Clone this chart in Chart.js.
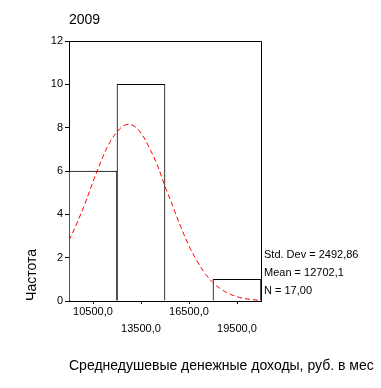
<!DOCTYPE html>
<html><head><meta charset="utf-8">
<script src="https://cdn.jsdelivr.net/npm/chart.js@4/dist/chart.umd.min.js"></script>
<style>html,body{margin:0;padding:0;background:#fff;}#wrap{width:381px;height:388px;}</style>
</head><body><div id="wrap"><canvas id="c" width="381" height="388"></canvas></div>
<script>
const title = '2009';
const xTitle = 'Среднедушевые денежные доходы, руб. в мес';
const yTitle = 'Частота';
const binCenters = [10500, 13500, 16500, 19500];
const binCounts = [6, 10, 0, 1];
const curveX = [9000,9500,10000,10500,11000,11500,12000,12500,13000,13500,14000,14500,15000,15500,16000,16500,17000,17500,18000,18500,19000,19500,20000,20500,21000];
const curveY = [2.8,3.6,4.5,5.5,6.45,7.25,7.8,8.12,8.1,7.75,7.1,6.3,5.3,4.35,3.4,2.55,1.85,1.28,0.85,0.55,0.34,0.2,0.11,0.06,0.03];
const statLines = ['Std. Dev = 2492,86', 'Mean = 12702,1', 'N = 17,00'];
const yTicks = [0, 2, 4, 6, 8, 10, 12];

const FONT = '"Liberation Sans", Arial, sans-serif';

const framePlugin = {
  id: 'frame',
  afterDraw(chart) {
    const ctx = chart.ctx, a = chart.chartArea;
    ctx.save();
    ctx.strokeStyle = '#000';
    ctx.lineWidth = 1;
    ctx.beginPath();
    ctx.moveTo(a.left, a.top + 0.5);
    ctx.lineTo(a.right + 0.5, a.top + 0.5);
    ctx.lineTo(a.right + 0.5, a.bottom);
    ctx.stroke();
    ctx.fillStyle = '#000';
    ctx.textBaseline = 'middle';
    ctx.textAlign = 'left';
    ctx.font = '14px ' + FONT;
    ctx.fillText(title, 69, 20);
    ctx.fillText(xTitle, 69, 366);
    ctx.font = '11px ' + FONT;
    const ys = [255, 273, 291];
    statLines.forEach((t, i) => ctx.fillText(t, 264, ys[i]));
    ctx.save();
    ctx.translate(32, 275);
    ctx.rotate(-Math.PI / 2);
    ctx.textAlign = 'center';
    ctx.font = '14px ' + FONT;
    ctx.fillText(yTitle, 0, 0);
    ctx.restore();
    ctx.restore();
  }
};

new Chart(document.getElementById('c'), {
  type: 'bar',
  data: {
    datasets: [
      {
        type: 'line',
        data: curveX.map((x, i) => ({x: x, y: curveY[i]})),
        borderColor: '#ff0000',
        borderWidth: 1,
        borderDash: [5, 3],
        pointRadius: 0,
        tension: 0.4,
        fill: false,
        order: 0
      },
      {
        type: 'bar',
        data: binCenters.map((x, i) => ({x: x, y: binCounts[i] || null})),
        backgroundColor: '#ffffff',
        borderColor: '#000000',
        borderWidth: 1,
        borderSkipped: 'start',
        barPercentage: 1,
        categoryPercentage: 1,
        order: 1
      }
    ]
  },
  options: {
    responsive: false,
    animation: false,
    layout: {padding: {left: 0, top: 41, right: 120, bottom: 0}},
    plugins: {legend: {display: false}, tooltip: {enabled: false}, title: {display: false}},
    scales: {
      x: {
        type: 'linear',
        offset: false,
        min: 9000, max: 21000,
        afterFit(s) { s.height = 87; },
        afterBuildTicks(s) { s.ticks = binCenters.map(v => ({value: v})); },
        grid: {display: true, offset: false, drawOnChartArea: false, drawTicks: true, tickLength: 3, color: '#000'},
        border: {display: true, color: '#000', width: 1},
        ticks: {
          color: '#000', maxRotation: 0, autoSkip: false, padding: -1,
          font: {family: FONT, size: 11, lineHeight: '17px'},
          callback(v, i) { const l = v + ',0'; return i % 2 ? ['', l] : l; }
        }
      },
      y: {
        min: 0, max: 12,
        afterFit(s) { s.width = 69; },
        afterBuildTicks(s) { s.ticks = yTicks.map(v => ({value: v})); },
        grid: {display: true, drawOnChartArea: false, drawTicks: true, tickLength: 4, color: '#000'},
        border: {display: true, color: '#000', width: 1},
        ticks: {color: '#000', padding: 2, font: {family: FONT, size: 11}}
      }
    }
  },
  plugins: [framePlugin]
});
</script>
</body></html>
